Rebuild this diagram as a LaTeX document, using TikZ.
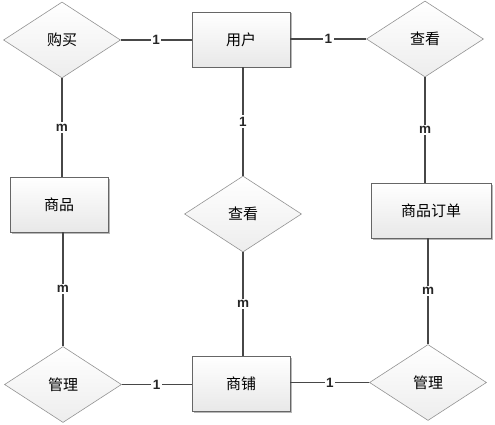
\documentclass[tikz,border=0pt]{standalone}
\usepackage{fontspec}
\setmainfont{Liberation Sans}
\newfontfamily\cjk{Noto Sans CJK SC}
\usetikzlibrary{shapes.geometric,shadows}
\begin{document}
\begin{tikzpicture}[x=1pt,y=-1pt,
  entity/.style={rectangle,draw=gray!80!black,line width=0.8pt,top color=white,bottom color=gray!18,
    minimum width=98pt,minimum height=55pt,inner sep=0pt,font=\cjk\fontsize{15}{17}\selectfont,
    drop shadow={shadow xshift=1.5pt,shadow yshift=-1.5pt,fill=gray!70,opacity=0.8}},
  rel/.style={diamond,draw=gray!85,line width=0.6pt,top color=white,bottom color=gray!14,
    minimum width=117pt,minimum height=76pt,inner sep=0pt,font=\cjk\fontsize{15}{17}\selectfont},
  conn/.style={draw=black!72,line width=1.3pt},
  card/.style={fill=white,inner sep=1.5pt,font=\bfseries\fontsize{13.5}{14}\selectfont,text=black!85}]
\useasboundingbox (0,0) rectangle (495,425);
\node[rel] (gm) at (62,40) {购买};
\node[entity] (yh) at (241,39.5) {用户};
\node[rel] (ck1) at (425,39) {查看};
\node[entity] (sp) at (59,204.5) {商品};
\node[rel] (ck2) at (243,214) {查看};
\node[entity,minimum width=120pt] (dd) at (431,210.5) {商品订单};
\node[rel] (gl1) at (63,384.5) {管理};
\node[entity] (sd) at (241,384) {商铺};
\node[rel] (gl2) at (428,382.5) {管理};
\draw[conn] (gm.east) -- node[card]{1} (gm.east -| yh.west);
\draw[conn] (yh.east |- ck1.west) -- node[card]{1} (ck1.west);
\draw[conn] (gm.south) -- node[card]{m} (gm.south |- sp.north);
\draw[conn] (yh.south -| ck2.north) -- node[card]{1} (ck2.north);
\draw[conn] (ck1.south) -- node[card]{m} (ck1.south |- dd.north);
\draw[conn] (sp.south -| gl1.north) -- node[card]{m} (gl1.north);
\draw[conn] (ck2.south) -- node[card]{m} (ck2.south |- sd.north);
\draw[conn] (dd.south -| gl2.north) -- node[card]{m} (gl2.north);
\draw[conn] (gl1.east) -- node[card]{1} (gl1.east -| sd.west);
\draw[conn] (sd.east |- gl2.west) -- node[card]{1} (gl2.west);
\end{tikzpicture}
\end{document}
